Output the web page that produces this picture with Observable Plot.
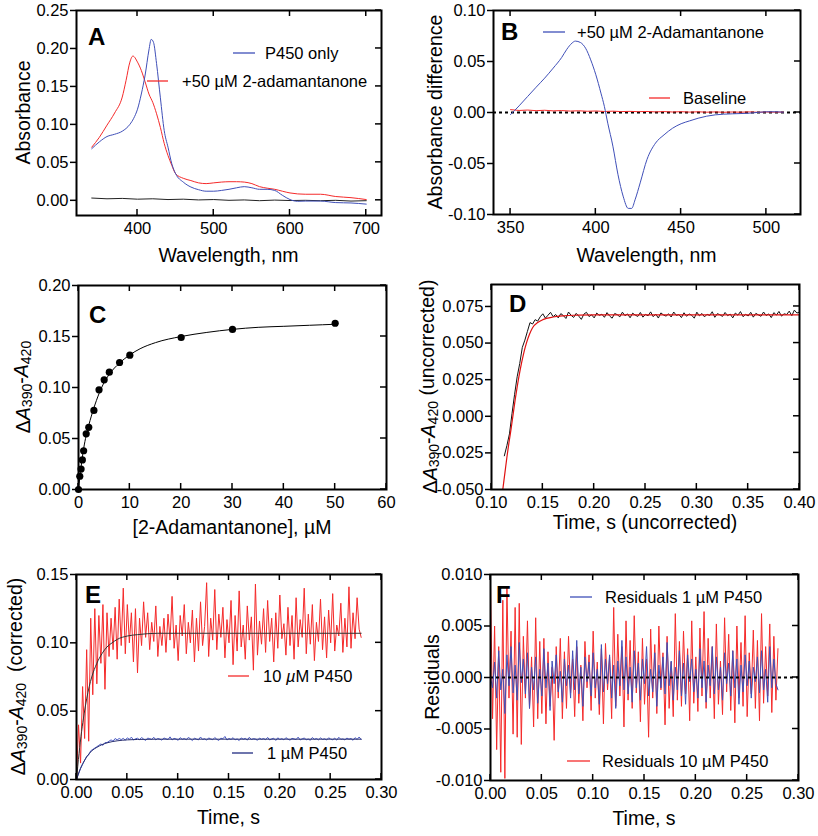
<!DOCTYPE html>
<html><head><meta charset="utf-8">
<script src="https://cdn.jsdelivr.net/npm/d3@7"></script>
<script src="https://cdn.jsdelivr.net/npm/@observablehq/plot@0.6"></script>
<style>
body{margin:0;background:#fff;}
#fig{position:relative;width:818px;height:836px;background:#fff;}
#fig svg{position:absolute;overflow:visible;}
</style></head><body><div id="fig"></div>
<script>
// ---------- Panel A: absolute spectra ----------
const aBlueX = [340,350,360,370,380,390,395,400,405,410,415,418,421,425,430,435,440,445,450,460,470,480,490,500,510,520,530,540,550,560,570,580,590,600,610,620,640,660,680,700];
const aBlueY = [0.068,0.077,0.084,0.087,0.091,0.100,0.108,0.120,0.140,0.165,0.198,0.212,0.208,0.180,0.135,0.092,0.070,0.048,0.035,0.024,0.0175,0.014,0.012,0.012,0.013,0.0145,0.0165,0.018,0.0165,0.0145,0.0145,0.013,0.0066,0.001,-0.0013,-0.001,-0.001,-0.003,-0.0035,-0.005];
const aRedX = [340,350,360,370,380,385,390,394,400,405,410,415,420,425,430,435,440,445,450,460,470,480,490,500,510,520,530,540,550,560,570,580,590,600,620,640,660,680,700];
const aRedY = [0.070,0.083,0.099,0.115,0.136,0.158,0.182,0.190,0.182,0.171,0.156,0.140,0.129,0.114,0.096,0.075,0.059,0.046,0.035,0.029,0.026,0.023,0.022,0.023,0.024,0.0245,0.0245,0.024,0.022,0.018,0.016,0.0145,0.012,0.0097,0.008,0.008,0.005,0.0035,0.001];
const aBaseX = [340,360,380,400,420,440,460,480,500,520,540,560,580,600,620,640,660,680,700];
const aBaseY = [0.003,0.002,0.0025,0.0015,0.002,0.001,0.0015,0.0005,0.001,0.0,0.0005,-0.0005,0.0003,-0.0003,0.0,-0.0005,0.0,-0.001,-0.0005];
const aXTicks = [400,500,600,700];
const aYTicks = [0,0.05,0.10,0.15,0.20,0.25];

// ---------- Panel B: difference spectrum ----------
const bX = [350,355,360,365,370,375,380,383,386,388,391,394,397,400,403,405,407,410,413,416,419,421,423,426,430,435,440,445,450,455,460,465,470,480,490,500,505,510];
const bY = [-0.002,0.0065,0.0157,0.0248,0.0337,0.0435,0.054,0.062,0.068,0.070,0.0686,0.063,0.0516,0.037,0.019,0.006,-0.0105,-0.033,-0.061,-0.082,-0.094,-0.094,-0.0856,-0.069,-0.046,-0.030,-0.0219,-0.0154,-0.011,-0.0082,-0.0056,-0.0036,-0.0023,-0.0013,-0.0007,0.0007,0.0007,0.0003];
const bBaseX = [350,355,360,365,370,375,380,385,390,395,400,405,410,415,420,425,430,435,440,445,450,455,460,465,470,475,480,485,490,495,500,505,510];
const bBaseY = [0.0028,0.0020,0.0024,0.0018,0.0022,0.0016,0.0019,0.0014,0.0017,0.0012,0.0015,0.0010,0.0013,0.0009,0.0011,0.0008,0.0010,0.0006,0.0009,0.0005,0.0008,0.0004,0.0007,0.0003,0.0006,0.0002,0.0005,0.0003,0.0006,0.0002,0.0005,0.0003,0.0004];
const bXTicks = [350,400,450,500];
const bYTicks = [-0.10,-0.05,0,0.05,0.10];

// ---------- Panel C: titration ----------
const cConc = [0,0.25,0.5,0.75,1,1.5,2,3,4,5,6,8,10,20,30,50];
const cResp = [0,0.013,0.020,0.029,0.038,0.0546,0.061,0.0775,0.0977,0.1075,0.115,0.1245,0.1317,0.149,0.1569,0.163];
const cFitX = [0,0.5,1,1.5,2,3,4,5,6,8,10,12,15,20,25,30,35,40,45,50];
const cFitY = [0,0.022,0.040,0.053,0.063,0.080,0.094,0.105,0.113,0.124,0.132,0.138,0.144,0.150,0.154,0.157,0.159,0.160,0.161,0.162];
const cXTicks = [0,10,20,30,40,50,60];
const cYTicks = [0,0.05,0.10,0.15,0.20];

// ---------- Panel D: uncorrected stopped-flow trace ----------
const dStart = 0.1125, dStep = 0.0025;
const dData = [-0.027,-0.020,-0.012,0.002,0.015,0.027,0.036,0.047,0.052,0.058,0.064,0.063,0.066,0.065,0.068,0.070,0.067,0.069,0.071,0.068,
0.0695,0.0672,0.0701,0.0688,0.0668,0.0712,0.0690,0.0675,0.0703,0.0684,
0.0662,0.0698,0.0710,0.0681,0.0693,0.0672,0.0705,0.0689,0.0697,0.0676,
0.0708,0.0685,0.0670,0.0702,0.0694,0.0679,0.0711,0.0687,0.0699,0.0673,
0.0704,0.0691,0.0682,0.0709,0.0677,0.0696,0.0686,0.0713,0.0680,0.0698,
0.0671,0.0706,0.0692,0.0684,0.0700,0.0678,0.0712,0.0689,0.0695,0.0674,
0.0707,0.0683,0.0699,0.0690,0.0670,0.0711,0.0686,0.0702,0.0679,0.0697,
0.0688,0.0714,0.0676,0.0701,0.0693,0.0682,0.0709,0.0687,0.0698,0.0672,
0.0705,0.0690,0.0715,0.0680,0.0696,0.0685,0.0710,0.0677,0.0703,0.0692,
0.0683,0.0712,0.0688,0.0699,0.0674,0.0708,0.0691,0.0716,0.0684,0.0700,
0.0695,0.0718,0.0687,0.0725,0.0705,0.0712];
const dFitX = [0.111,0.113,0.115,0.117,0.119,0.121,0.123,0.125,0.128,0.131,0.134,0.137,0.140,0.145,0.150,0.160,0.170,0.180,0.200,0.250,0.300,0.350,0.400];
const dFitY = [-0.050,-0.039,-0.028,-0.018,-0.009,0.001,0.011,0.020,0.032,0.042,0.050,0.056,0.0605,0.0640,0.0660,0.0678,0.0686,0.0690,0.0692,0.0693,0.0693,0.0693,0.0693];
const dXTicks = [0.10,0.15,0.20,0.25,0.30,0.35,0.40];
const dYTicks = [-0.050,-0.025,0,0.025,0.050,0.075];

// ---------- Panel E: corrected traces ----------
const eStep = 0.002;
const e10 = [0.000,0.040,0.012,0.068,0.030,0.095,0.028,0.118,0.062,0.125,0.070,0.120,0.085,0.128,0.066,0.122,0.090,0.118,0.095,0.126,0.088,0.132,0.098,0.140,0.092,0.128,0.100,0.122,0.086,0.125,0.078,0.118,0.098,0.130,0.104,0.122,
0.095,0.115,0.101,0.127,0.090,0.112,0.098,0.118,0.093,0.121,0.102,0.134,0.096,0.113,0.087,0.120,0.105,0.128,0.092,0.115,0.100,0.124,0.086,0.118,0.094,0.130,0.098,0.112,0.144,0.090,0.118,0.102,0.139,0.095,0.121,0.104,0.126,0.089,0.117,0.100,0.131,0.084,0.120,0.094,0.138,0.097,0.113,0.088,0.127,0.102,0.119,0.080,0.143,0.091,0.116,0.099,0.125,0.093,0.131,0.101,0.118,0.086,0.122,0.096,0.135,0.103,0.114,0.091,0.126,0.098,0.120,0.088,0.133,0.097,0.117,0.104,0.140,0.092,0.121,0.099,0.128,0.087,0.115,0.101,0.132,0.095,0.119,0.089,0.124,0.100,0.136,0.094,0.113,0.105,0.129,0.093,0.118,0.097,0.141,0.096,0.122,0.103,0.133,0.110,0.104];
const e1 = [0.000,0.004,0.008,0.011,0.014,0.017,0.018,0.021,0.022,0.023,0.024,0.025,0.026,0.025,0.027,0.027,0.028,0.029,0.028,0.030,0.029,0.030,
0.0292,0.0301,0.0288,0.0305,0.0294,0.0310,0.0289,0.0298,0.0302,0.0291,
0.0307,0.0296,0.0286,0.0303,0.0299,0.0293,0.0309,0.0290,0.0300,0.0295,
0.0288,0.0304,0.0297,0.0292,0.0312,0.0289,0.0301,0.0296,0.0287,0.0306,
0.0294,0.0300,0.0291,0.0308,0.0298,0.0285,0.0303,0.0295,0.0290,0.0311,
0.0293,0.0299,0.0288,0.0304,0.0297,0.0291,0.0307,0.0294,0.0286,0.0302,
0.0298,0.0315,0.0289,0.0300,0.0293,0.0306,0.0290,0.0297,0.0285,0.0304,
0.0295,0.0301,0.0288,0.0309,0.0292,0.0299,0.0296,0.0287,0.0303,0.0294,
0.0300,0.0291,0.0308,0.0289,0.0297,0.0302,0.0286,0.0305,0.0293,0.0299,
0.0290,0.0306,0.0295,0.0288,0.0301,0.0297,0.0292,0.0310,0.0289,0.0298,
0.0303,0.0291,0.0296,0.0287,0.0307,0.0294,0.0300,0.0290,0.0304,0.0293,
0.0298,0.0289,0.0305,0.0296,0.0291,0.0302,0.0288,0.0309,0.0294,0.0297,
0.0290,0.0303,0.0295,0.0300,0.0287,0.0306,0.0293,0.0311,0.0292];
const eFitX = [0,0.0025,0.005,0.0075,0.01,0.0125,0.015,0.02,0.025,0.03,0.035,0.04,0.05,0.06,0.08,0.10,0.15,0.20,0.25,0.28];
const eFit10 = [0,0.019,0.035,0.048,0.059,0.068,0.075,0.085,0.092,0.097,0.100,0.1025,0.105,0.106,0.107,0.107,0.107,0.107,0.107,0.107];
const eFit1 = [0,0.0055,0.010,0.0135,0.0165,0.019,0.021,0.0235,0.0255,0.0268,0.0277,0.0283,0.0290,0.0293,0.0295,0.0295,0.0295,0.0295,0.0295,0.0295];
const eXTicks = [0,0.05,0.10,0.15,0.20,0.25,0.30];
const eYTicks = [0,0.05,0.10,0.15];

// ---------- Panel F: residuals ----------
const fRes10 = [0.009,-0.004,0.005,-0.007,0.003,-0.0092,0.0075,-0.0098,0.0088,-0.002,0.0045,-0.0055,0.0068,-0.0058,0.0072,-0.0065,0.004,-0.002,0.0055,-0.003,0.002,-0.0048,0.0058,-0.004,0.0035,-0.0035,0.0038,-0.0045,0.0025,-0.0028,0.001,-0.0061,0.003,-0.002,0.0038,-0.004,
0.0025,-0.0030,0.0040,-0.0015,0.0018,-0.0038,0.0030,-0.0025,0.0012,-0.0042,
0.0035,-0.0010,0.0022,-0.0032,0.0045,-0.0020,0.0015,-0.0036,0.0028,-0.0045,
0.0033,-0.0012,0.0020,-0.0040,0.0068,-0.0028,0.0042,-0.0018,0.0030,-0.0048,
0.0055,-0.0022,0.0036,-0.0030,0.0060,-0.0015,0.0025,-0.0043,0.0038,-0.0026,
0.0018,-0.0058,0.0047,-0.0020,0.0032,-0.0035,0.0050,-0.0012,0.0024,-0.0046,
0.0040,-0.0030,0.0015,-0.0038,0.0062,-0.0022,0.0035,-0.0028,0.0045,-0.0016,
0.0028,-0.0042,0.0055,-0.0025,0.0020,-0.0033,0.0048,-0.0018,0.0064,-0.0030,
0.0038,-0.0020,0.0030,-0.0040,0.0052,-0.0026,0.0016,-0.0036,0.0058,-0.0014,
0.0042,-0.0032,0.0026,-0.0044,0.0050,-0.0020,0.0034,-0.0028,0.0060,-0.0038,
0.0024,-0.0016,0.0046,-0.0030,0.0036,-0.0042,0.0062,-0.0025,0.0030,-0.0018,
0.0052,-0.0034,0.0040,-0.0022,0.0028];
const fRes1 = [0.0000,-0.0010,0.0015,-0.0020,0.0026,-0.0012,0.0008,-0.0035,0.0022,-0.0008,
0.0030,-0.0015,0.0012,-0.0022,0.0034,-0.0005,0.0018,-0.0016,0.0024,-0.0030,
0.0010,-0.0012,0.0020,-0.0025,0.0008,-0.0018,0.0028,-0.0010,0.0014,-0.0032,
0.0016,-0.0006,0.0022,-0.0014,0.0006,-0.0024,0.0018,-0.0008,0.0012,-0.0020,
0.0026,-0.0012,0.0036,-0.0016,0.0010,-0.0028,0.0020,-0.0004,0.0015,-0.0018,
0.0024,-0.0010,0.0008,-0.0026,0.0032,-0.0014,0.0018,-0.0006,0.0022,-0.0020,
0.0012,-0.0030,0.0016,-0.0008,0.0036,-0.0012,0.0020,-0.0016,0.0010,-0.0024,
0.0026,-0.0010,0.0014,-0.0022,0.0018,-0.0006,0.0030,-0.0018,0.0008,-0.0014,
0.0024,-0.0028,0.0012,-0.0010,0.0020,-0.0016,0.0034,-0.0008,0.0016,-0.0022,
0.0010,-0.0012,0.0026,-0.0018,0.0014,-0.0026,0.0022,-0.0004,0.0018,-0.0014,
0.0008,-0.0020,0.0028,-0.0010,0.0016,-0.0024,0.0012,-0.0008,0.0030,-0.0016,
0.0020,-0.0012,0.0010,-0.0022,0.0024,-0.0006,0.0014,-0.0018,0.0026,-0.0010,
0.0018,-0.0026,0.0012,-0.0014,0.0022,-0.0008,0.0016,-0.0020,0.0010,-0.0004,
0.0020,-0.0015,0.0026,-0.0012,0.0008,-0.0024,0.0030,-0.0010,0.0018,-0.0006,
-0.0012];
const fXTicks = [0,0.05,0.10,0.15,0.20,0.25,0.30];
const fYTicks = [-0.010,-0.005,0,0.005,0.010];

// ---------- helpers ----------
const FONT = '"Liberation Sans", Arial, Helvetica, sans-serif';
const RED = "#f52a2a", BLUE = "#3f4fb8", NAVY = "#1f2a80";
const pts = (xs, ys) => xs.map((x, i) => ({x, y: ys[i]}));
const series = (start, step, ys) => ys.map((y, i) => ({x: +(start + i * step).toFixed(5), y}));
const fmt = n => d => d.toFixed(n);

function rich(sel, parts) {
  parts.forEach(p => {
    const s = sel.append("tspan").text(p.t);
    if (p.i) s.attr("font-style", "italic");
    if (p.sub) s.attr("font-size", "0.72em").attr("dy", "0.3em");
    if (p.back) s.attr("dy", "-0.3em");
  });
}

const fig = document.getElementById("fig");

function panel(c) {
  const [mL, mT, mR, mB] = c.margin;
  const plot = Plot.plot({
    width: c.width, height: c.height,
    marginLeft: mL, marginTop: mT, marginRight: mR, marginBottom: mB,
    x: {domain: c.xDomain, nice: false},
    y: {domain: c.yDomain, nice: false},
    style: {fontFamily: FONT, fontSize: "16.5px", color: "black", background: "transparent", overflow: "visible"},
    marks: [
      ...c.marks,
      Plot.axisY({ticks: c.yTicks, tickFormat: c.yFmt, tickSize: 6, tickPadding: 2, strokeWidth: 1.5, label: null, fontSize: 16.5}),
      Plot.axisX({ticks: c.xTicks, tickFormat: c.xFmt, tickSize: 0, tickPadding: 7, label: null, fontSize: 16.5}),
      Plot.frame({stroke: "black", strokeWidth: 2})
    ]
  });
  plot.style.left = c.left + "px";
  plot.style.top = c.top + "px";
  fig.appendChild(plot);
  const svg = d3.select(plot);
  const xs = plot.scale("x"), ys = plot.scale("y");
  const xL = mL, xR = c.width - mR, yT = mT, yB = c.height - mB;
  const g = svg.append("g").attr("stroke", "black").attr("stroke-width", 1.5);
  c.xTicks.forEach(v => {
    const x = xs.apply(v);
    g.append("line").attr("x1", x).attr("x2", x).attr("y1", yB).attr("y2", yB - 6);
    g.append("line").attr("x1", x).attr("x2", x).attr("y1", yT).attr("y2", yT + 6);
  });
  c.yTicks.forEach(v => {
    const y = ys.apply(v);
    g.append("line").attr("x1", xR).attr("x2", xR - 6).attr("y1", y).attr("y2", y);
  });
  const t = svg.append("g").attr("font-family", FONT).attr("fill", "black");
  // x title
  rich(t.append("text").attr("x", (xL + xR) / 2).attr("y", c.xTitleY).attr("text-anchor", "middle")
    .attr("dominant-baseline", "central").attr("font-size", 19.5), c.xTitle);
  // y title
  rich(t.append("text").attr("transform", `translate(${c.yTitleX},${(yT + yB) / 2}) rotate(-90)`)
    .attr("text-anchor", "middle").attr("dominant-baseline", "central").attr("font-size", 19.5), c.yTitle);
  // panel letter
  t.append("text").attr("x", c.letter[0]).attr("y", c.letter[1]).attr("font-weight", "bold")
    .attr("text-anchor", "start").attr("font-size", 24).text(c.letter[2]);
  // legend
  (c.legend || []).forEach(l => {
    svg.append("line").attr("x1", l.x1).attr("x2", l.x2).attr("y1", l.y).attr("y2", l.y)
      .attr("stroke", l.color).attr("stroke-width", 1.3);
    rich(t.append("text").attr("x", l.tx).attr("y", l.y).attr("text-anchor", "start")
      .attr("dominant-baseline", "central").attr("font-size", 16.5), l.text);
  });
  return plot;
}

// ---------- Panel A ----------
panel({
  left: 0, top: 0, width: 410, height: 270, margin: [76, 10, 29, 55],
  xDomain: [320, 720], yDomain: [-0.02, 0.25], xTicks: aXTicks, yTicks: aYTicks,
  xFmt: fmt(0), yFmt: fmt(2),
  marks: [
    Plot.line(pts(aBaseX, aBaseY), {x: "x", y: "y", stroke: "#222", strokeWidth: 1}),
    Plot.line(pts(aRedX, aRedY), {x: "x", y: "y", stroke: RED, strokeWidth: 1, curve: "monotone-x"}),
    Plot.line(pts(aBlueX, aBlueY), {x: "x", y: "y", stroke: BLUE, strokeWidth: 1, curve: "monotone-x"})
  ],
  xTitle: [{t: "Wavelength, nm"}], xTitleY: 255,
  yTitle: [{t: "Absorbance"}], yTitleX: 23,
  letter: [88, 45, "A"],
  legend: [
    {x1: 233, x2: 255, y: 53, color: BLUE, tx: 265, text: [{t: "P450 only"}]},
    {x1: 147, x2: 168, y: 81, color: RED, tx: 182, text: [{t: "+50 µM 2-adamantanone"}]}
  ]
});

// ---------- Panel B ----------
panel({
  left: 410, top: 0, width: 408, height: 270, margin: [83, 10, 18, 56],
  xDomain: [340, 520], yDomain: [-0.10, 0.10], xTicks: bXTicks, yTicks: bYTicks,
  xFmt: fmt(0), yFmt: fmt(2),
  marks: [
    Plot.ruleY([0], {stroke: "black", strokeWidth: 1.8, strokeDasharray: "3,3"}),
    Plot.line(pts(bBaseX, bBaseY), {x: "x", y: "y", stroke: RED, strokeWidth: 1}),
    Plot.line(pts(bX, bY), {x: "x", y: "y", stroke: BLUE, strokeWidth: 1, curve: "monotone-x"})
  ],
  xTitle: [{t: "Wavelength, nm"}], xTitleY: 255,
  yTitle: [{t: "Absorbance difference"}], yTitleX: 25,
  letter: [91, 40, "B"],
  legend: [
    {x1: 133, x2: 155, y: 32, color: BLUE, tx: 167, text: [{t: "+50 µM 2-Adamantanone"}]},
    {x1: 239, x2: 260, y: 98, color: RED, tx: 273, text: [{t: "Baseline"}]}
  ]
});

// ---------- Panel C ----------
panel({
  left: 0, top: 270, width: 410, height: 280, margin: [78, 15, 24, 61],
  xDomain: [0, 60], yDomain: [0, 0.20], xTicks: cXTicks, yTicks: cYTicks,
  xFmt: fmt(0), yFmt: fmt(2),
  marks: [
    Plot.line(pts(cFitX, cFitY), {x: "x", y: "y", stroke: "black", strokeWidth: 1, curve: "monotone-x"}),
    Plot.dot(pts(cConc, cResp), {x: "x", y: "y", r: 3.6, fill: "black", stroke: "none"})
  ],
  xTitle: [{t: "[2-Adamantanone], µM"}], xTitleY: 257,
  yTitle: [{t: "Δ"}, {t: "A", i: true}, {t: "390", sub: true}, {t: "-", back: true}, {t: "A", i: true}, {t: "420", sub: true}], yTitleX: 23,
  letter: [89, 53, "C"]
});

// ---------- Panel D ----------
panel({
  left: 410, top: 270, width: 408, height: 280, margin: [81, 14, 19, 61],
  xDomain: [0.10, 0.40], yDomain: [-0.05, 0.09], xTicks: dXTicks, yTicks: dYTicks,
  xFmt: fmt(2), yFmt: fmt(3),
  marks: [
    Plot.line(series(dStart, dStep, dData), {x: "x", y: "y", stroke: "#111", strokeWidth: 1}),
    Plot.line(pts(dFitX, dFitY), {x: "x", y: "y", stroke: "#e01010", strokeWidth: 1.2, curve: "monotone-x"})
  ],
  xTitle: [{t: "Time, s (uncorrected)"}], xTitleY: 252,
  yTitle: [{t: "Δ"}, {t: "A", i: true}, {t: "390", sub: true}, {t: "-", back: true}, {t: "A", i: true}, {t: "420", sub: true}, {t: " (uncorrected)", back: true}], yTitleX: 20,
  letter: [99, 42, "D"]
});

// ---------- Panel E ----------
panel({
  left: 0, top: 550, width: 410, height: 286, margin: [76, 24, 29, 57],
  xDomain: [0, 0.30], yDomain: [0, 0.15], xTicks: eXTicks, yTicks: eYTicks,
  xFmt: fmt(2), yFmt: fmt(2),
  marks: [
    Plot.line(series(0, eStep, e10), {x: "x", y: "y", stroke: RED, strokeWidth: 1}),
    Plot.line(series(0, eStep, e1), {x: "x", y: "y", stroke: "#4a5ac4", strokeWidth: 1}),
    Plot.line(pts(eFitX, eFit10), {x: "x", y: "y", stroke: "#333", strokeWidth: 1, curve: "monotone-x"}),
    Plot.line(pts(eFitX, eFit1), {x: "x", y: "y", stroke: "#2a3070", strokeWidth: 1, curve: "monotone-x"})
  ],
  xTitle: [{t: "Time, s"}], xTitleY: 267,
  yTitle: [{t: "Δ"}, {t: "A", i: true}, {t: "390", sub: true}, {t: "-", back: true}, {t: "A", i: true}, {t: "420", sub: true}, {t: "  (corrected)", back: true}], yTitleX: 18,
  letter: [85, 53, "E"],
  legend: [
    {x1: 228, x2: 249, y: 126, color: RED, tx: 263, text: [{t: "10 "}, {t: "µ", i: true}, {t: "M P450"}]},
    {x1: 232, x2: 253, y: 203, color: NAVY, tx: 267, text: [{t: "1 µM P450"}]}
  ]
});

// ---------- Panel F ----------
panel({
  left: 410, top: 550, width: 408, height: 286, margin: [80, 24, 20, 56],
  xDomain: [0, 0.30], yDomain: [-0.010, 0.010], xTicks: fXTicks, yTicks: fYTicks,
  xFmt: fmt(2), yFmt: fmt(3),
  marks: [
    Plot.line(series(0, eStep, fRes10), {x: "x", y: "y", stroke: RED, strokeWidth: 1}),
    Plot.line(series(0, eStep, fRes1), {x: "x", y: "y", stroke: BLUE, strokeWidth: 1}),
    Plot.ruleY([0], {stroke: "black", strokeWidth: 1.8, strokeDasharray: "3,3"})
  ],
  xTitle: [{t: "Time, s"}], xTitleY: 268,
  yTitle: [{t: "Residuals"}], yTitleX: 22,
  letter: [86, 53, "F"],
  legend: [
    {x1: 160, x2: 182, y: 47, color: BLUE, tx: 195, text: [{t: "Residuals 1 µM P450"}]},
    {x1: 157, x2: 180, y: 211, color: RED, tx: 192, text: [{t: "Residuals 10 µM P450"}]}
  ]
});
</script></body></html>
